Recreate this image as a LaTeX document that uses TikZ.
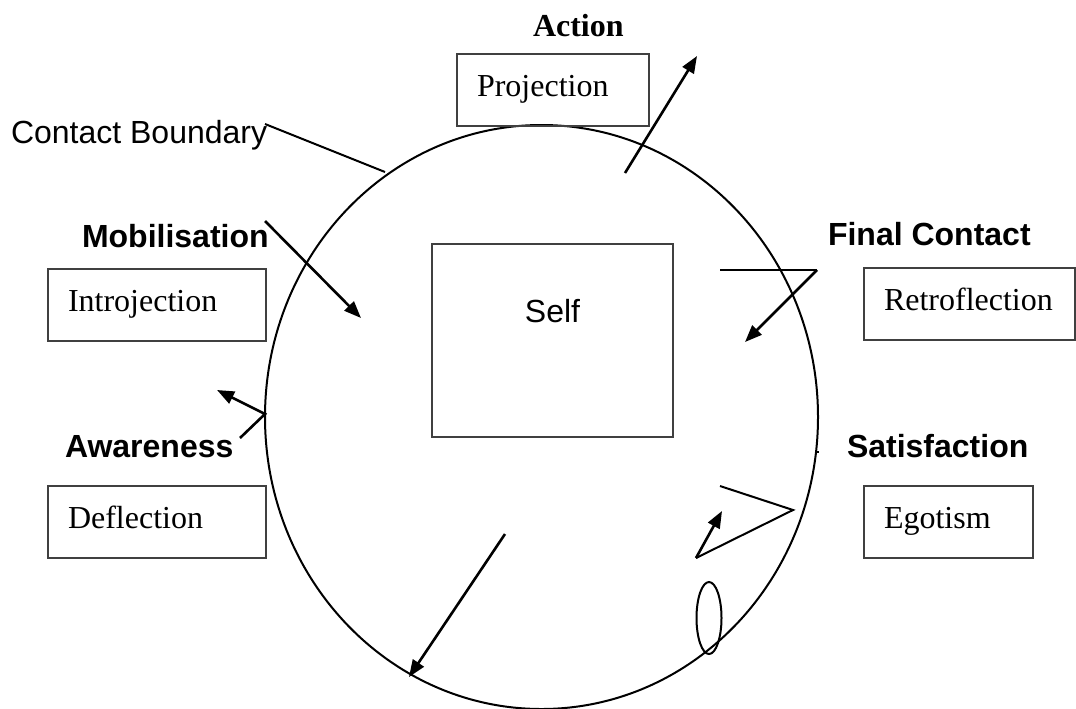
\documentclass[tikz,border=0pt]{standalone}
\usepackage{fontspec}
\setmainfont{Liberation Serif}
\setsansfont{Liberation Sans}
\usetikzlibrary{arrows.meta,shapes.geometric}
\begin{document}
\begin{tikzpicture}[x=0.5pt,y=-0.5pt,
  every node/.style={inner sep=0pt, outer sep=0pt},
  stage/.style={font=\fontsize{16pt}{19pt}\selectfont\sffamily\bfseries, anchor=base west},
  serifhead/.style={font=\fontsize{16pt}{19pt}\selectfont\rmfamily\bfseries, anchor=base west},
  plainlbl/.style={font=\fontsize{16pt}{19pt}\selectfont\sffamily, anchor=base west},
  defbox/.style={draw=black!75, line width=0.75pt, anchor=north west,
    font=\fontsize{16pt}{19pt}\selectfont\rmfamily, align=left, text width=#1,
    inner xsep=10pt, inner ysep=0pt, minimum height=36pt,
    text height=10.5pt, text depth=4pt},
  thinline/.style={line width=1pt},
  arrowline/.style={line width=1.3pt, -{Triangle[length=8.5pt,width=6.5pt]}}
]
\useasboundingbox (0,0) rectangle (1076,708);

% contact boundary and self
\node[draw, ellipse, line width=1pt, minimum width=276.5pt, minimum height=292pt] (boundary) at (541.5,417) {};
\node[draw=black!75, line width=0.75pt, anchor=north west, minimum width=120.5pt, minimum height=96.5pt,
  text height=11.5pt, text depth=30pt, font=\fontsize{16pt}{19pt}\selectfont\sffamily] (self) at (432,244) {Self};

% stage labels
\node[serifhead] (action) at (533,36) {Action};
\node[stage] (mobil) at (82,247) {Mobilisation};
\node[stage] (aware) at (65,457) {Awareness};
\node[stage] (final) at (828,245) {Final Contact};
\node[stage] (satis) at (847,457) {Satisfaction};
\node[plainlbl] (cblabel) at (11,143) {Contact Boundary};

% interruption boxes
\node[defbox=76pt] (proj) at (457,54) {Projection};
\node[defbox=89pt] (intro) at (48,269) {Introjection};
\node[defbox=89pt] (defl) at (48,486) {Deflection};
\node[defbox=85.5pt] (retro) at (864,268) {Retroflection};
\node[defbox=64.5pt] (ego) at (864,486) {Egotism};

% small loop on the boundary
\node[draw, ellipse, line width=1pt, minimum width=12.5pt, minimum height=36pt] (loop) at (709,618) {};

% connector points
\coordinate (cbS) at (265,124);
\coordinate (cbE) at (385,172);
\coordinate (actS) at (625,173);
\coordinate (actE) at (697,56);
\coordinate (mobS) at (265,221);
\coordinate (mobE) at (361,318);
\coordinate (awA) at (240,438);
\coordinate (awB) at (265,414);
\coordinate (awE) at (217,390);
\coordinate (fcA) at (720,270);
\coordinate (fcB) at (817,270);
\coordinate (fcE) at (745,342);
\coordinate (egA) at (720,486);
\coordinate (egB) at (793,510);
\coordinate (egC) at (696,558);
\coordinate (egE) at (722,511);
\coordinate (botS) at (505,534);
\coordinate (botE) at (409,677);
\coordinate (tkA) at (816,452);
\coordinate (tkB) at (819,452);

% connectors
\draw[thinline] (cbS) -- (cbE);
\draw[arrowline] (actS) -- (actE);
\draw[arrowline] (mobS) -- (mobE);
\draw[arrowline] (awA) -- (awB) -- (awE);
\draw[thinline] (fcA) -- (fcB);
\draw[arrowline] (fcB) -- (fcE);
\draw[thinline] (egA) -- (egB) -- (egC);
\draw[arrowline] (egC) -- (egE);
\draw[arrowline] (botS) -- (botE);
\draw[line width=0.6pt] (tkA) -- (tkB);
\end{tikzpicture}
\end{document}
